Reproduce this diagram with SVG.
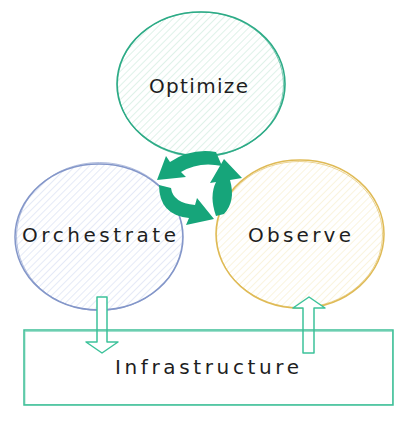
<svg xmlns="http://www.w3.org/2000/svg" width="410" height="421" viewBox="0 0 410 421">
<defs>
<pattern id="hG" patternUnits="userSpaceOnUse" width="5" height="5" patternTransform="rotate(45)"><line x1="0" y1="0" x2="0" y2="5" stroke="#bfe6d3" stroke-width="1"/></pattern>
<pattern id="hB" patternUnits="userSpaceOnUse" width="5" height="5" patternTransform="rotate(45)"><line x1="0" y1="0" x2="0" y2="5" stroke="#cbd6f0" stroke-width="1"/></pattern>
<pattern id="hY" patternUnits="userSpaceOnUse" width="5" height="5" patternTransform="rotate(45)"><line x1="0" y1="0" x2="0" y2="5" stroke="#f6e9bd" stroke-width="1"/></pattern>
</defs>
<style>
.lbl{font-family:"DejaVu Sans","Liberation Sans",sans-serif;font-size:20px;fill:#1e1e1e;text-anchor:start}
.cyc{fill:#16a57a;stroke:none}
.blk{fill:#ffffff;stroke:#3cc29a;stroke-width:1.5;stroke-linejoin:round}
</style>
<rect width="410" height="421" fill="#ffffff"/>
<g id="optimize">
<ellipse cx="201" cy="84" rx="84" ry="72" fill="url(#hG)"/>
<ellipse cx="201" cy="84" rx="84" ry="72" fill="none" stroke="#2cab86" stroke-width="1.6"/>
<ellipse cx="200.5" cy="84.5" rx="83" ry="72.5" fill="none" stroke="#2cab86" stroke-width="0.9" opacity="0.7"/>
<text class="lbl" x="149" y="93" textLength="99" lengthAdjust="spacing">Optimize</text>
</g>
<g id="orchestrate">
<ellipse cx="99" cy="237" rx="84" ry="73" fill="url(#hB)"/>
<ellipse cx="99" cy="237" rx="84" ry="73" fill="none" stroke="#8396c9" stroke-width="1.5"/>
<ellipse cx="99.5" cy="236.5" rx="83" ry="74" fill="none" stroke="#8396c9" stroke-width="0.9" opacity="0.7"/>
<text class="lbl" x="22" y="242" textLength="154" lengthAdjust="spacing">Orchestrate</text>
</g>
<g id="observe">
<ellipse cx="300" cy="234" rx="84" ry="74" fill="url(#hY)"/>
<ellipse cx="300" cy="234" rx="84" ry="74" fill="none" stroke="#dfba55" stroke-width="1.5"/>
<ellipse cx="299.5" cy="234.5" rx="83" ry="73" fill="none" stroke="#dfba55" stroke-width="0.9" opacity="0.7"/>
<text class="lbl" x="248" y="242" textLength="103" lengthAdjust="spacing">Observe</text>
</g>
<g id="connectors">
<path class="cyc" d="M 216,152 Q 191,148 170,162 L 166,156 L 157,180 L 186,177 L 181,172 Q 199,161 222,166 Z"/>
<path class="cyc" d="M 159,185 Q 159,215 189,218 L 186,225 L 214,219 L 197,198 L 195,205 Q 173,203 171,188 Z"/>
<path class="cyc" d="M 216,216 Q 209,196 216,182 L 210,183 L 224,159 L 242,178 L 230,180 Q 236,201 224,214 Z"/>
<path class="blk" d="M 97,297 L 107,297 L 107,342 L 118,342 L 102,353 L 86,342 L 97,342 Z"/>
<path class="blk" d="M 303,353 L 314,353 L 314,308 L 325,308 L 309,297 L 293,308 L 303,308 Z"/>
</g>
<g id="infrastructure">
<rect x="24" y="330" width="369" height="75" fill="none" stroke="#3cbf97" stroke-width="1.5"/>
<rect x="25" y="331.5" width="367.5" height="73" fill="none" stroke="#3cbf97" stroke-width="0.8" opacity="0.6"/>
<text class="lbl" x="115" y="374" textLength="184" lengthAdjust="spacing">Infrastructure</text>
</g>
</svg>
